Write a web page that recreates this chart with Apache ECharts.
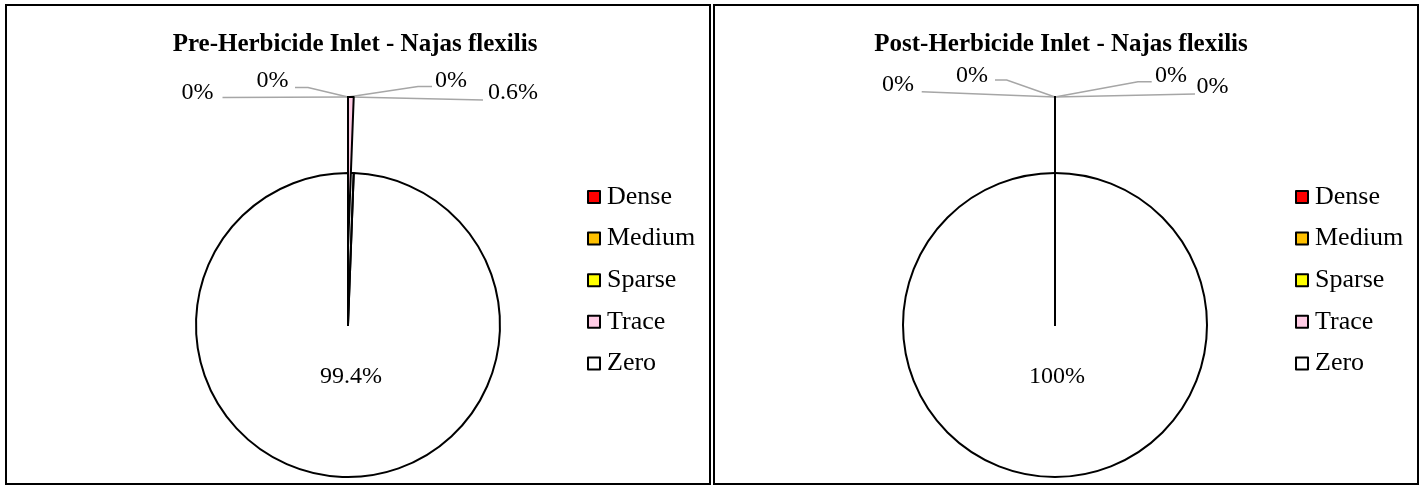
<!DOCTYPE html>
<html><head><meta charset="utf-8">
<script src="https://cdn.jsdelivr.net/npm/echarts@6/dist/echarts.min.js"></script>
<style>html,body{margin:0;padding:0;background:#fff}#c{width:1424px;height:485px}</style>
</head><body><div id="c"></div>
<script>
// ---- data ----
const categories = ['Dense', 'Medium', 'Sparse', 'Trace', 'Zero'];
const preValues = [0, 0, 0, 0.6, 99.4];
const postValues = [0, 0, 0, 0, 100];
const chartTitles = ['Pre-Herbicide Inlet - Najas flexilis', 'Post-Herbicide Inlet - Najas flexilis'];
const colors = ['#FF0000', '#FFC000', '#FFFF00', '#FFCCE5', '#FFFFFF'];

// ---- layout / style ----
const FONT = '"Liberation Serif","Times New Roman",serif';
const R = 152, EXPLODE = 76;
const CLEAR = 'rgba(0,0,0,0)';
const panels = [
  { values: preValues, cx: 348, cy: 325, titleX: 355, legendX: 587, box: [6, 5, 704, 479],
    zeroLabel: [3, 52],
    spots: [
      { at: [-150.5, -232.5], line: [[25, 5], [25, 5]] },
      { at: [-75.5, -244.5], line: [[35.5, 7], [22.5, 7]] },
      { at: [103, -244.5], line: [[-33, 6], [-19, 6]] },
      { at: [165, -232], line: [[-30, 7], [-30, 7]] }
    ] },
  { values: postValues, cx: 1055, cy: 325, titleX: 1061, legendX: 1295, box: [714, 5, 704, 479],
    zeroLabel: [2, 52],
    spots: [
      { at: [-157, -240], line: [[23.7, 6.7], [23.7, 6.7]] },
      { at: [-83, -249.5], line: [[34.7, 4.5], [23, 4.5]] },
      { at: [116, -249.5], line: [[-33, 6.2], [-19.3, 6.2]] },
      { at: [157.5, -238], line: [[-17.5, 7], [-17.5, 7]] }
    ] }
];

function placeLabel(params, px, py) {
  const w = params.labelRect.width;
  let x = px;
  if (params.align === 'left') x = px - w / 2;
  else if (params.align === 'right') x = px + w / 2;
  let y = py;
  const h = params.labelRect.height;
  if (params.verticalAlign === 'top') y = py - h / 2;
  else if (params.verticalAlign === 'bottom') y = py + h / 2;
  return { x, y };
}

const series = [];
const titles = [];
const legends = [];
const graphics = [];
const labelFmt = (q) => q.value + '%';

panels.forEach((p, pi) => {
  titles.push({
    text: chartTitles[pi], left: p.titleX, top: 32, textAlign: 'center', padding: 0,
    textStyle: { fontSize: 25, fontWeight: 'bold', fontFamily: FONT, color: '#000' }
  });
  legends.push({
    orient: 'vertical', left: p.legendX, top: 184, padding: 0, itemWidth: 12, itemHeight: 12, itemGap: 15.6,
    icon: 'rect', selectedMode: false,
    textStyle: { fontSize: 26, lineHeight: 26, fontFamily: FONT, color: '#000', padding: [0, 0, 0, 2] },
    data: categories.map((n, k) => ({ name: n, itemStyle: { color: colors[k], borderColor: '#000', borderWidth: 2 } }))
  });
  graphics.push({
    type: 'rect', shape: { x: p.box[0], y: p.box[1], width: p.box[2], height: p.box[3] },
    style: { fill: 'none', stroke: '#000', lineWidth: 2 }, silent: true
  });

  // exploded small slices
  series.push({
    type: 'pie', center: [p.cx, p.cy - EXPLODE], radius: R, startAngle: 90, clockwise: true,
    z: 4, animation: false, avoidLabelOverlap: false,
    emphasis: { disabled: true },
    label: { show: true, position: 'outside', formatter: labelFmt, fontSize: 24, fontFamily: FONT, color: '#000' },
    labelLine: { show: true, lineStyle: { color: '#a6a6a6', width: 1.5 } },
    labelLayout: (params) => {
      const k = params.dataIndex;
      if (k > 3) return {};
      const s = p.spots[k];
      const lx = p.cx + s.at[0], ly = p.cy + s.at[1];
      const pos = placeLabel(params, lx, ly);
      const tip = (params.labelLinePoints && params.labelLinePoints[0]) || [p.cx, p.cy - EXPLODE - R];
      return {
        x: pos.x, y: pos.y,
        labelLinePoints: [tip, [lx + s.line[0][0], ly + s.line[0][1]], [lx + s.line[1][0], ly + s.line[1][1]]]
      };
    },
    data: categories.map((n, k) => ({
      name: n, value: p.values[k],
      itemStyle: k < 4 ? { color: colors[k], borderColor: '#000', borderWidth: 2 }
                       : { color: CLEAR, borderColor: CLEAR, borderWidth: 0 },
      label: { show: k < 4 }, labelLine: { show: k < 4 }
    }))
  });
  // main pie: filled body
  series.push({
    type: 'pie', center: [p.cx, p.cy], radius: R, startAngle: 90, clockwise: true,
    z: 2, animation: false, avoidLabelOverlap: false,
    emphasis: { disabled: true },
    label: { show: false, position: 'inside', formatter: labelFmt, fontSize: 24, fontFamily: FONT, color: '#000' },
    labelLine: { show: false },
    labelLayout: (params) => {
      if (params.dataIndex !== 4) return {};
      return placeLabel(params, p.cx + p.zeroLabel[0], p.cy + p.zeroLabel[1]);
    },
    data: categories.map((n, k) => ({
      name: n, value: p.values[k],
      itemStyle: k < 4 ? { color: CLEAR, borderColor: CLEAR, borderWidth: 0 }
                       : { color: colors[k], borderColor: '#000', borderWidth: 2 },
      label: { show: k === 4 }
    }))
  });
  // main pie: outlines of the thin slices (drawn above the body)
  series.push({
    type: 'pie', center: [p.cx, p.cy], radius: R, startAngle: 90, clockwise: true,
    z: 3, animation: false, silent: true,
    emphasis: { disabled: true },
    label: { show: false }, labelLine: { show: false },
    data: categories.map((n, k) => ({
      name: n, value: p.values[k],
      itemStyle: k < 4 ? { color: CLEAR, borderColor: '#000', borderWidth: 2 }
                       : { color: CLEAR, borderColor: CLEAR, borderWidth: 0 }
    }))
  });
});

const chart = echarts.init(document.getElementById('c'), null, { renderer: 'canvas' });
chart.setOption({
  backgroundColor: '#fff',
  animation: false,
  title: titles,
  legend: legends,
  graphic: graphics,
  series: series
});
</script></body></html>
